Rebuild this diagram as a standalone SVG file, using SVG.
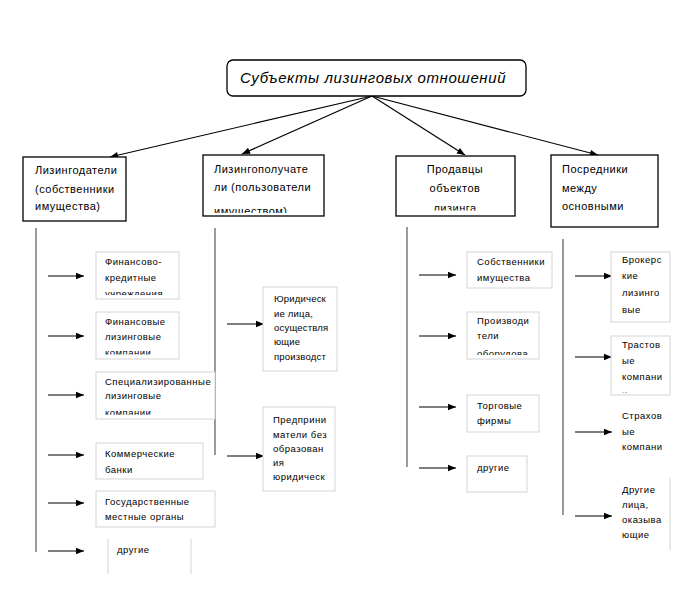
<svg xmlns="http://www.w3.org/2000/svg" width="684" height="612" viewBox="0 0 684 612">
<style>
.hb{fill:#fff;stroke:#000;stroke-width:1.3}
.sb{fill:#fff;stroke:#d4d4d4;stroke-width:1}
.sl{stroke:#d4d4d4;stroke-width:1;fill:none}
.vl{stroke:#7a7a7a;stroke-width:1.5}
.ar{stroke:#000;stroke-width:1.2;fill:none}
.t{font-family:"Liberation Sans",Arial,sans-serif;fill:#000}
.h{font-size:11px;letter-spacing:0.5px}
.s{font-size:9.5px;letter-spacing:0.5px}
.n{letter-spacing:0.2px}
.ti{font-size:15px;font-style:italic;letter-spacing:0.6px}
</style>
<defs>
<marker id="ah" viewBox="0 0 10 10" refX="10" refY="5" markerWidth="9" markerHeight="8" markerUnits="userSpaceOnUse" orient="auto"><path d="M0,1 L10,5 L0,9 z" fill="#000"/></marker>
<clipPath id="c2h"><rect x="203" y="155" width="121" height="58"/></clipPath>
<clipPath id="c3h"><rect x="396" y="156" width="119" height="54.5"/></clipPath>
<clipPath id="c11"><rect x="96" y="252" width="83" height="43"/></clipPath>
<clipPath id="c12"><rect x="96" y="312" width="83" height="42.5"/></clipPath>
<clipPath id="c13"><rect x="96" y="372" width="119" height="42.8"/></clipPath>
<clipPath id="c32"><rect x="467" y="312" width="72" height="43"/></clipPath>
<clipPath id="c42"><rect x="611" y="336" width="59" height="56.5"/></clipPath>
</defs>
<rect width="684" height="612" fill="#fff"/>

<g id="connectors">
<line class="ar" x1="372" y1="96" x2="110" y2="157" marker-end="url(#ah)"/>
<line class="ar" x1="372" y1="96" x2="242" y2="154" marker-end="url(#ah)"/>
<line class="ar" x1="372" y1="96" x2="465" y2="155" marker-end="url(#ah)"/>
<line class="ar" x1="372" y1="96" x2="598" y2="155" marker-end="url(#ah)"/>
<line class="vl" x1="36" y1="228" x2="36" y2="552"/>
<line class="vl" x1="215" y1="228" x2="215" y2="455"/>
<line class="vl" x1="407" y1="227" x2="407" y2="467"/>
<line class="vl" x1="563" y1="239" x2="563" y2="515"/>
<line class="ar" x1="48" y1="276" x2="84" y2="276" marker-end="url(#ah)"/>
<line class="ar" x1="48" y1="336" x2="84" y2="336" marker-end="url(#ah)"/>
<line class="ar" x1="48" y1="395" x2="84" y2="395" marker-end="url(#ah)"/>
<line class="ar" x1="48" y1="455" x2="84" y2="455" marker-end="url(#ah)"/>
<line class="ar" x1="48" y1="503" x2="84" y2="503" marker-end="url(#ah)"/>
<line class="ar" x1="48" y1="551" x2="84" y2="551" marker-end="url(#ah)"/>
<line class="ar" x1="227" y1="324" x2="264" y2="324" marker-end="url(#ah)"/>
<line class="ar" x1="227" y1="456" x2="264" y2="456" marker-end="url(#ah)"/>
<line class="ar" x1="419" y1="275" x2="456" y2="275" marker-end="url(#ah)"/>
<line class="ar" x1="419" y1="336" x2="456" y2="336" marker-end="url(#ah)"/>
<line class="ar" x1="419" y1="407" x2="456" y2="407" marker-end="url(#ah)"/>
<line class="ar" x1="419" y1="468" x2="456" y2="468" marker-end="url(#ah)"/>
<line class="ar" x1="575" y1="276" x2="612" y2="276" marker-end="url(#ah)"/>
<line class="ar" x1="575" y1="357" x2="612" y2="357" marker-end="url(#ah)"/>
<line class="ar" x1="575" y1="432" x2="612" y2="432" marker-end="url(#ah)"/>
<line class="ar" x1="575" y1="516" x2="612" y2="516" marker-end="url(#ah)"/>
</g>

<g id="root">
<rect class="hb" x="227" y="60" width="299" height="36" rx="6"/>
<text class="t ti" x="240" y="83">Субъекты лизинговых отношений</text>
</g>

<g id="lessors">
<rect class="hb" x="23" y="157" width="103" height="64"/>
<text class="t h" x="35" y="174">Лизингодатели</text>
<text class="t h" x="35" y="193">(собственники</text>
<text class="t h" x="35" y="210">имущества)</text>
</g>
<g id="lessees">
<rect class="hb" x="203" y="155" width="121" height="61"/>
<g clip-path="url(#c2h)">
<text class="t h" x="214" y="173">Лизингополучате</text>
<text class="t h" x="214" y="191">ли (пользователи</text>
<text class="t h" x="214" y="215">имуществом)</text>
</g>
</g>
<g id="sellers">
<rect class="hb" x="396" y="156" width="119" height="60"/>
<g clip-path="url(#c3h)" text-anchor="middle">
<text class="t h" x="455" y="173">Продавцы</text>
<text class="t h" x="455" y="192">объектов</text>
<text class="t h" x="455" y="212">лизинга</text>
</g>
</g>
<g id="intermediaries">
<rect class="hb" x="551" y="155" width="107" height="72"/>
<text class="t h" x="562" y="173">Посредники</text>
<text class="t h" x="562" y="192">между</text>
<text class="t h" x="562" y="210">основными</text>
</g>

<g id="l1">
<rect class="sb" x="96" y="252" width="83" height="47"/>
<g clip-path="url(#c11)">
<text class="t s" x="105" y="265">Финансово-</text>
<text class="t s" x="105" y="281">кредитные</text>
<text class="t s" x="105" y="296.5">учреждения</text>
</g>
</g>
<g id="l2">
<rect class="sb" x="96" y="312" width="83" height="47"/>
<g clip-path="url(#c12)">
<text class="t s" x="105" y="325">Финансовые</text>
<text class="t s" x="105" y="340">лизинговые</text>
<text class="t s" x="105" y="356">компании</text>
</g>
</g>
<g id="l3">
<rect class="sb" x="96" y="372" width="119" height="47"/>
<g clip-path="url(#c13)">
<text class="t s" x="105" y="385">Специализированные</text>
<text class="t s" x="105" y="399">лизинговые</text>
<text class="t s" x="105" y="416">компании</text>
</g>
</g>
<g id="l4">
<rect class="sb" x="96" y="443" width="107" height="36"/>
<text class="t s" x="105" y="457">Коммерческие</text>
<text class="t s" x="105" y="473">банки</text>
</g>
<g id="l5">
<rect class="sb" x="96" y="491" width="119" height="36"/>
<text class="t s" x="105" y="505">Государственные</text>
<text class="t s" x="105" y="520">местные органы</text>
</g>
<g id="l6">
<line class="sl" x1="108" y1="539" x2="108" y2="574"/>
<line class="sl" x1="191" y1="539" x2="191" y2="574"/>
<text class="t s" x="117" y="553">другие</text>
</g>

<g id="e1">
<rect class="sb" x="263" y="287" width="74" height="84"/>
<text class="t s n" x="274" y="302">Юридическ</text>
<text class="t s n" x="274" y="317">ие лица,</text>
<text class="t s n" x="274" y="331">осуществля</text>
<text class="t s n" x="274" y="345">ющие</text>
<text class="t s n" x="274" y="360">производст</text>
</g>
<g id="e2">
<rect class="sb" x="263" y="407" width="72" height="84"/>
<text class="t s" x="273" y="423">Предприни</text>
<text class="t s" x="273" y="438">матели без</text>
<text class="t s" x="273" y="452">образован</text>
<text class="t s" x="273" y="466">ия</text>
<text class="t s" x="273" y="480">юридическ</text>
</g>

<g id="s1">
<rect class="sb" x="467" y="252" width="85" height="36"/>
<text class="t s" x="477" y="265">Собственники</text>
<text class="t s" x="477" y="281">имущества</text>
</g>
<g id="s2">
<rect class="sb" x="467" y="312" width="72" height="47"/>
<g clip-path="url(#c32)">
<text class="t s" x="477" y="324">Производи</text>
<text class="t s" x="477" y="339">тели</text>
<text class="t s" x="477" y="356.5">оборудова</text>
</g>
</g>
<g id="s3">
<rect class="sb" x="467" y="395" width="72" height="37"/>
<text class="t s" x="477" y="409">Торговые</text>
<text class="t s" x="477" y="424">фирмы</text>
</g>
<g id="s4">
<rect class="sb" x="467" y="456" width="60" height="36"/>
<text class="t s" x="477" y="471">другие</text>
</g>

<g id="i1">
<rect class="sb" x="611" y="252" width="59" height="70"/>
<text class="t s" x="622" y="263">Брокерс</text>
<text class="t s" x="622" y="279">кие</text>
<text class="t s" x="622" y="296">лизинго</text>
<text class="t s" x="622" y="313">вые</text>
</g>
<g id="i2">
<rect class="sb" x="611" y="336" width="59" height="59"/>
<g clip-path="url(#c42)">
<text class="t s" x="622" y="348">Трастов</text>
<text class="t s" x="622" y="364">ые</text>
<text class="t s" x="622" y="380">компани</text>
<text class="t s" x="622" y="396.5">и</text>
</g>
</g>
<g id="i3">
<text class="t s" x="622" y="419">Страхов</text>
<text class="t s" x="622" y="435">ые</text>
<text class="t s" x="622" y="450">компани</text>
</g>
<g id="i4">
<line class="sl" x1="670" y1="478" x2="670" y2="550"/>
<text class="t s" x="622" y="493">Другие</text>
<text class="t s" x="622" y="508">лица,</text>
<text class="t s" x="622" y="523">оказыва</text>
<text class="t s" x="622" y="538">ющие</text>
</g>
</svg>
